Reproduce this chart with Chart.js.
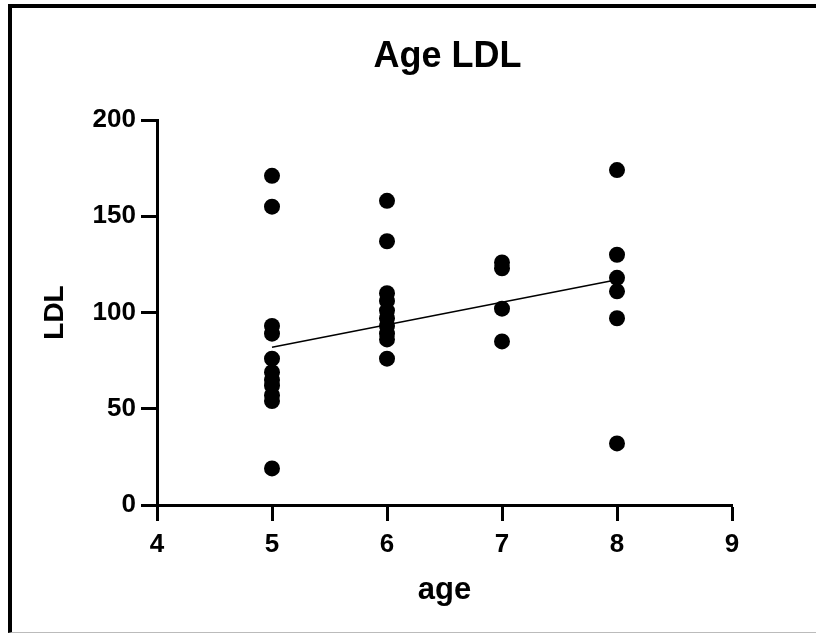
<!DOCTYPE html>
<html lang="en">
<head>
    <meta charset="UTF-8">
    <title>Age LDL</title>
    <script src="https://cdn.jsdelivr.net/npm/chart.js"></script>
    <style>
        body { margin: 0; background: #fff; overflow: hidden; }
        .wrap { position: relative; width: 816px; height: 635px; overflow: hidden; }
        .frame { position: absolute; left: 8px; top: 4px; width: 900px; height: 624px;
                 border-top: 4px solid #000; border-left: 4px solid #000; border-bottom: 1px solid #bbb; }
        canvas { position: absolute; left: 0; top: 0; }
    </style>
</head>
<body>
    <div class="wrap">
        <div class="frame"></div>
        <canvas id="ldlChart" width="816" height="635"></canvas>
    </div>

    <script>
        // LDL values, one array per age group
        const ageGroups = [5, 6, 7, 8];
        const ldlAge5 = [171, 155, 93, 89, 76, 69, 65, 62, 57, 54, 19];
        const ldlAge6 = [158, 137, 110, 106, 101, 97, 93, 89, 86, 76];
        const ldlAge7 = [126, 123, 102, 85];
        const ldlAge8 = [174, 130, 118, 111, 97, 32];

        // fitted line end points
        const fitX = [5, 8];
        const fitY = [82, 117];

        const xTicks = [4, 5, 6, 7, 8, 9];
        const yTicks = [0, 50, 100, 150, 200];

        const chartTitle = 'Age LDL';
        const FONT = "'Liberation Sans', Arial, sans-serif";

        let points = [];
        [ldlAge5, ldlAge6, ldlAge7, ldlAge8].forEach(function(vals, i) {
            vals.forEach(function(v) { points.push({ x: ageGroups[i], y: v }); });
        });
        let fitLine = fitX.map(function(x, i) { return { x: x, y: fitY[i] }; });

        // title centred over the plot area, not the whole canvas
        const plotTitle = {
            id: 'plotTitle',
            afterDraw: function(chart) {
                let c = chart.ctx, a = chart.chartArea;
                c.save();
                c.fillStyle = '#000';
                c.font = 'bold 36px ' + FONT;
                c.textAlign = 'center';
                c.textBaseline = 'middle';
                c.fillText(chartTitle, (a.left + a.right) / 2 + 3, 57);
                c.restore();
            }
        };

        const axisLook = {
            grid: { drawOnChartArea: false, drawTicks: true, tickLength: 16, tickWidth: 3, tickColor: '#000' },
            border: { display: true, color: '#000', width: 3 }
        };

        let ctx = document.getElementById('ldlChart').getContext('2d');
        new Chart(ctx, {
            type: 'scatter',
            data: {
                datasets: [
                    { label: 'LDL', data: points, backgroundColor: '#000', borderColor: '#000',
                      pointRadius: 8, pointBorderWidth: 0 },
                    { type: 'line', label: 'fit', data: fitLine, borderColor: '#000', borderWidth: 1.5,
                      pointRadius: 0, fill: false }
                ]
            },
            plugins: [plotTitle],
            options: {
                responsive: false,
                animation: false,
                layout: { padding: { left: 0, right: 84, top: 120, bottom: 0 } },
                plugins: {
                    legend: { display: false },
                    tooltip: { enabled: false },
                    title: { display: false }
                },
                scales: {
                    x: Object.assign({
                        type: 'linear', min: 4, max: 9,
                        afterBuildTicks: function(s) { s.ticks = xTicks.map(function(v) { return { value: v }; }); },
                        afterFit: function(s) { s.height = 130; },
                        ticks: { color: '#000', padding: 8, font: { family: FONT, size: 26, weight: 'bold' } },
                        title: { display: true, text: 'age', color: '#000', padding: { top: 0, bottom: 26 },
                                 font: { family: FONT, size: 31, weight: 'bold' } }
                    }, axisLook),
                    y: Object.assign({
                        type: 'linear', min: 0, max: 200,
                        afterBuildTicks: function(s) { s.ticks = yTicks.map(function(v) { return { value: v }; }); },
                        afterFit: function(s) { s.width = 157; },
                        ticks: { color: '#000', padding: 5, font: { family: FONT, size: 26, weight: 'bold' } },
                        title: { display: true, text: 'LDL', color: '#000', padding: { top: 38, bottom: 0 },
                                 font: { family: FONT, size: 28, weight: 'bold' } }
                    }, axisLook)
                }
            }
        });
    </script>
</body>
</html>
